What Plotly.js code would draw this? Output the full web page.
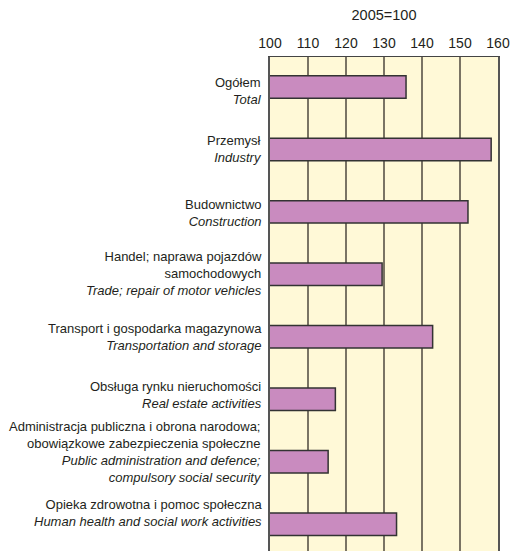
<!DOCTYPE html>
<html>
<head>
<meta charset="utf-8">
<script src="https://cdn.plot.ly/plotly-3.0.1.min.js"></script>
<style>html,body{margin:0;padding:0;background:#fff;}#chart{width:512px;height:551px;}</style>
</head>
<body>
<div id="chart"></div>
<script>
const categoriesPL = [
  "Ogółem",
  "Przemysł",
  "Budownictwo",
  "Handel; naprawa pojazdów<br>samochodowych",
  "Transport i gospodarka magazynowa",
  "Obsługa rynku nieruchomości",
  "Administracja publiczna i obrona narodowa;<br>obowiązkowe zabezpieczenia społeczne",
  "Opieka zdrowotna i pomoc społeczna"
];
const categoriesEN = [
  "Total",
  "Industry",
  "Construction",
  "Trade; repair of motor vehicles",
  "Transportation and storage",
  "Real estate activities",
  "Public administration and defence;<br>compulsory social security",
  "Human health and social work activities"
];
const values = [135.8, 158.2, 152.1, 129.5, 142.8, 117.2, 115.3, 133.3];
const tickValsX = [100, 110, 120, 130, 140, 150, 160];
const baseTitle = "2005=100";

// label vertical nudges (pixels, positive = lower), layout styling only
const labelNudge = [4, 0, 1, -1, 0, -4, -10, -11];

const FONT = "'Liberation Sans', Arial, sans-serif";
const italicize = s => s.split("<br>").map(p => "<i>" + p + "</i>").join("<br>");
const ids = categoriesPL.map((c, i) => "c" + i);
const labelText = categoriesPL.map((c, i) => c + "<br>" + italicize(categoriesEN[i]));

const trace = {
  type: "bar",
  orientation: "h",
  x: values,
  y: ids,
  width: 0.36,
  marker: { color: "#c98bbf", line: { color: "#333333", width: 1.5 } },
  hoverinfo: "x"
};

const annotations = ids.map((id, i) => ({
  xref: "paper", x: 0, xanchor: "right", xshift: -6,
  yref: "y", y: id, yanchor: "middle", yshift: -labelNudge[i],
  text: labelText[i], align: "right", showarrow: false,
  font: { family: FONT, size: 13, color: "#231f20" }
}));

const layout = {
  width: 512,
  height: 551,
  margin: { l: 270, r: 14, t: 57, b: 0, pad: 0 },
  paper_bgcolor: "#ffffff",
  plot_bgcolor: "#fff9d7",
  showlegend: false,
  font: { family: FONT, size: 13, color: "#231f20" },
  title: {
    text: baseTitle,
    font: { family: FONT, size: 14.5, color: "#231f20" },
    x: 0.5, xref: "paper", xanchor: "center",
    y: 1 - 15 / 551, yref: "container", yanchor: "middle"
  },
  xaxis: {
    side: "top",
    range: [100, 160],
    tickvals: tickValsX,
    ticks: "",
    showgrid: true,
    gridcolor: "#7a7464",
    gridwidth: 1.5,
    showline: true,
    linecolor: "#444444",
    linewidth: 1.5,
    zeroline: false,
    tickfont: { family: FONT, size: 14, color: "#231f20" },
    ticklabelstandoff: 2,
    fixedrange: true
  },
  yaxis: {
    type: "category",
    categoryarray: ids,
    range: [7.43, -0.48],
    showticklabels: false,
    ticks: "",
    showgrid: false,
    showline: true,
    mirror: true,
    linecolor: "#555555",
    linewidth: 2,
    zeroline: false,
    fixedrange: true
  },
  annotations: annotations,
  bargap: 0.64
};

Plotly.newPlot("chart", [trace], layout, { displayModeBar: false, staticPlot: true });
</script>
</body>
</html>
